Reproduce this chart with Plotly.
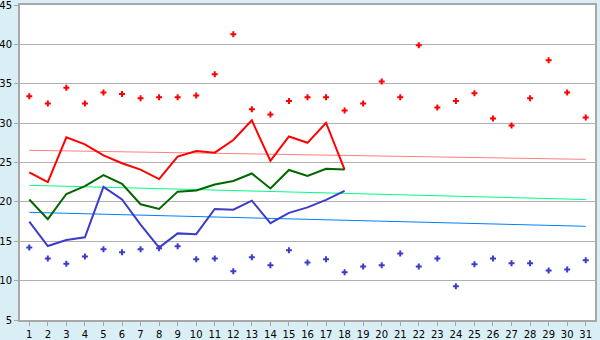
import plotly.graph_objects as go

days = list(range(1, 32))
line_days = list(range(1, 19))

max_points = [33.4, 32.5, 34.5, 32.5, 33.9, 33.7, 33.15, 33.3, 33.3, 33.5,
              36.2, 41.3, 31.75, 31.1, 32.8, 33.3, 33.3, 31.6, 32.5, 35.3,
              33.3, 39.9, 32.0, 32.8, 33.8, 30.6, 29.7, 33.15, 38.0, 33.9, 30.7]
min_points = [14.2, 12.8, 12.15, 13.05, 13.97, 13.6, 13.97, 14.1, 14.35, 12.7,
              12.8, 11.2, 12.96, 11.95, 13.85, 12.3, 12.7, 11.05, 11.8, 11.95,
              13.45, 11.8, 12.8, 9.27, 12.07, 12.8, 12.2, 12.2, 11.3, 11.4, 12.6]

red_line = [23.75, 22.5, 28.2, 27.3, 25.9, 24.9, 24.1, 22.9, 25.75, 26.45,
            26.25, 27.85, 30.35, 25.2, 28.3, 27.5, 30.05, 24.1]
green_line = [20.3, 17.8, 21.0, 22.0, 23.4, 22.3, 19.7, 19.1, 21.3, 21.45,
              22.2, 22.65, 23.6, 21.7, 24.05, 23.3, 24.2, 24.1]
blue_line = [17.5, 14.4, 15.15, 15.5, 21.9, 20.3, 17.1, 14.2, 16.0, 15.9,
             19.1, 19.0, 20.15, 17.3, 18.6, 19.3, 20.25, 21.4]

trend_days = [1, 31]
red_trend = [26.55, 25.4]
green_trend = [22.1, 20.3]
blue_trend = [18.67, 16.9]

y_ticks = [5, 10, 15, 20, 25, 30, 35, 40, 45]

fig = go.Figure()

fig.add_trace(go.Scatter(x=trend_days, y=red_trend, mode="lines",
                         line=dict(color="#ff8080", width=1)))
fig.add_trace(go.Scatter(x=trend_days, y=green_trend, mode="lines",
                         line=dict(color="#00ff80", width=1)))
fig.add_trace(go.Scatter(x=trend_days, y=blue_trend, mode="lines",
                         line=dict(color="#0080ff", width=1)))

fig.add_trace(go.Scatter(x=line_days, y=red_line, mode="lines",
                         line=dict(color="#ff0000", width=2)))
fig.add_trace(go.Scatter(x=line_days, y=green_line, mode="lines",
                         line=dict(color="#006600", width=2)))
fig.add_trace(go.Scatter(x=line_days, y=blue_line, mode="lines",
                         line=dict(color="#3c3ccc", width=2)))

fig.add_trace(go.Scatter(x=days, y=max_points, mode="markers",
                         marker=dict(symbol="cross", size=5, color="#ff0000",
                                     line=dict(width=0))))
fig.add_trace(go.Scatter(x=days, y=min_points, mode="markers",
                         marker=dict(symbol="cross", size=5, color="#3c3ccc",
                                     line=dict(width=0))))

fig.update_layout(
    width=600, height=340,
    margin=dict(l=20, r=5, t=5, b=20),
    paper_bgcolor="#daeff5",
    plot_bgcolor="#ffffff",
    showlegend=False,
    font=dict(family="DejaVu Sans", size=10, color="#000000"),
)
fig.update_xaxes(
    range=[0.5, 31.5], tickmode="array", tickvals=days,
    ticktext=[str(d) for d in days], automargin=False,
    ticklabeloverflow="allow",
    showgrid=False, zeroline=False,
    showline=True, linecolor="#a8a8a8", linewidth=2, mirror=True,
    ticks="outside", ticklen=4, tickcolor="#a8a8a8", ticklabelstandoff=0,
)
fig.update_yaxes(
    range=[5, 45], tickmode="array", tickvals=y_ticks,
    ticktext=[str(v) for v in y_ticks], automargin=False,
    ticklabeloverflow="allow",
    showgrid=True, gridcolor="#b0b0b0", gridwidth=1, zeroline=False,
    showline=True, linecolor="#a8a8a8", linewidth=2, mirror=True,
    ticks="outside", ticklen=4, tickcolor="#a8a8a8", ticklabelstandoff=0,
)

fig.write_html("out.html")
